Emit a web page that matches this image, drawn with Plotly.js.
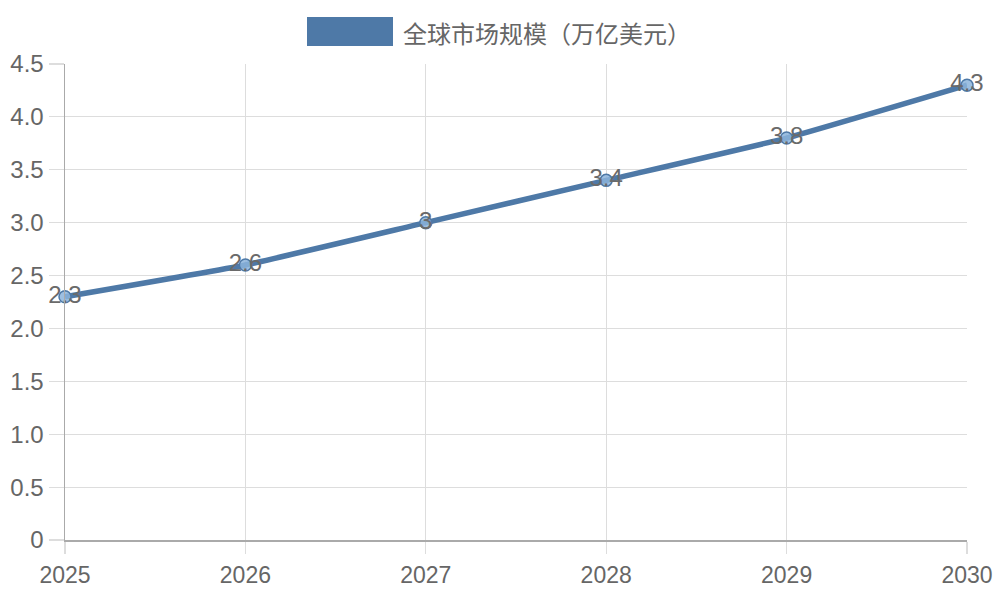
<!DOCTYPE html>
<html>
<head>
<meta charset="utf-8">
<script src="https://cdn.plot.ly/plotly-3.0.1.min.js"></script>
<style>html,body{margin:0;padding:0;background:#fff;}#chart{width:1000px;height:600px;}</style>
</head>
<body>
<div id="chart"></div>
<script>
const years = ["2025", "2026", "2027", "2028", "2029", "2030"];
const marketSize = [2.3, 2.6, 3.0, 3.4, 3.8, 4.3];
const valueLabels = ["2.3", "2.6", "3", "3.4", "3.8", "4.3"];
const seriesName = "全球市场规模（万亿美元）";
const yTickVals = [0, 0.5, 1, 1.5, 2, 2.5, 3, 3.5, 4, 4.5];
const yTickText = ["0", "0.5", "1.0", "1.5", "2.0", "2.5", "3.0", "3.5", "4.0", "4.5"];

const FONT = "'Liberation Sans', Arial, 'Noto Sans CJK SC', sans-serif";
const BLUE = "#4e79a7";

const W = 1000, H = 600, L = 65, R = 33, T = 64, B = 60;
const pw = W - L - R, ph = H - T - B;
const px = x => (x - L) / pw;
const py = y => (H - B - y) / ph;

const trace = {
  x: years,
  y: marketSize,
  text: valueLabels,
  type: "scatter",
  mode: "lines+markers+text",
  name: seriesName,
  showlegend: false,
  cliponaxis: false,
  line: {color: BLUE, width: 5.5, shape: "spline", smoothing: 0.35},
  marker: {size: 12, color: "rgba(140,180,220,0.85)", line: {color: BLUE, width: 1.5}},
  textposition: "middle center",
  textfont: {family: FONT, size: 24, color: "#6a6a6a"},
  hoverinfo: "x+y"
};

const layout = {
  width: W, height: H,
  margin: {l: L, r: R, t: T, b: B, pad: 0},
  paper_bgcolor: "#fff",
  plot_bgcolor: "#fff",
  font: {family: FONT, color: "#666", size: 22},
  showlegend: false,
  xaxis: {
    type: "category",
    range: [0, 5],
    showgrid: true,
    gridcolor: "#dddddd",
    gridwidth: 1.2,
    showline: true,
    linecolor: "#aaaaaa",
    linewidth: 1.5,
    ticks: "outside",
    ticklen: 12,
    tickcolor: "#dddddd",
    tickwidth: 1.2,
    ticklabelstandoff: 2,
    tickfont: {family: FONT, size: 23, color: "#666"},
    zeroline: false,
    fixedrange: true
  },
  yaxis: {
    range: [0, 4.5],
    tickvals: yTickVals,
    ticktext: yTickText,
    showgrid: true,
    gridcolor: "#dddddd",
    gridwidth: 1.2,
    showline: true,
    linecolor: "#aaaaaa",
    linewidth: 1.5,
    ticks: "outside",
    ticklen: 15,
    tickcolor: "#dddddd",
    tickwidth: 1.2,
    ticklabelstandoff: 0,
    tickfont: {family: FONT, size: 24, color: "#666"},
    zeroline: false,
    fixedrange: true
  },
  shapes: [{
    type: "rect", xref: "paper", yref: "paper",
    x0: px(307), x1: px(393), y0: py(46), y1: py(17),
    fillcolor: BLUE, line: {width: 0}
  }],
  annotations: [{
    xref: "paper", yref: "paper",
    x: px(401), y: py(32),
    xanchor: "left", yanchor: "middle",
    text: seriesName, showarrow: false,
    font: {family: "'Noto Sans CJK SC', sans-serif", size: 24, color: "#666"}
  }]
};

Plotly.newPlot("chart", [trace], layout, {displayModeBar: false, staticPlot: true});
</script>
</body>
</html>
